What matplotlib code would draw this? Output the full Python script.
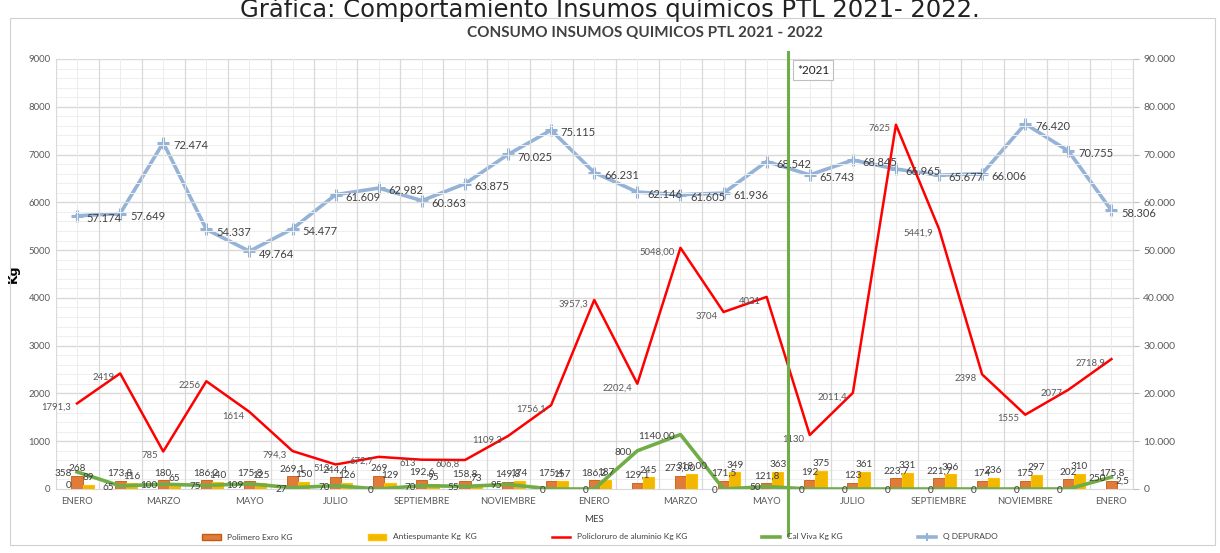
import matplotlib
matplotlib.use("Agg")
import matplotlib.pyplot as plt
import numpy as np
from matplotlib.lines import Line2D
from matplotlib.patches import Patch, Rectangle
from matplotlib.ticker import FuncFormatter, MultipleLocator

plt.rcParams['font.family'] = ['Lato', 'DejaVu Sans']

# ---------------- data ----------------
months = ["ENERO", "FEBRERO", "MARZO", "ABRIL", "MAYO", "JUNIO", "JULIO", "AGOSTO",
          "SEPTIEMBRE", "OCTUBRE", "NOVIEMBRE", "DICIEMBRE",
          "ENERO", "FEBRERO", "MARZO", "ABRIL", "MAYO", "JUNIO", "JULIO", "AGOSTO",
          "SEPTIEMBRE", "OCTUBRE", "NOVIEMBRE", "DICIEMBRE", "ENERO"]

polimero = ["268", "173,8", "180", "186,2", "175,8", "269,1", "244,4", "269", "192,6",
            "158,8", "149,8", "175,4", "186,2", "129,1", "273,00", "171,5", "121,8",
            "192", "123", "223,7", "221,7", "174", "175", "202", "175,8"]
antiespumante = ["89", "116", "65", "140", "125", "150", "126", "129", "95", "73", "174",
                 "157", "187", "245", "318,00", "349", "363", "375", "361", "331", "306",
                 "236", "297", "310", "2,5"]
policloruro = ["1791,3", "2419", "785", "2256", "1614", "794,3", "513", "672,7", "613",
               "606,8", "1109,3", "1756,1", "3957,3", "2202,4", "5048,00", "3704", "4021",
               "1130", "2011,4", "7625", "5441,9", "2398", "1555", "2077", "2718,9"]
cal_viva = ["358", "65", "100", "75", "109", "27", "70", "0", "70", "55", "95", "0", "0",
            "800", "1140,00", "0", "50", "0", "0", "0", "0", "0", "0", "0", "250"]
q_depurado = [57174, 57649, 72474, 54337, 49764, 54477, 61609, 62982, 60363, 63875,
              70025, 75115, 66231, 62146, 61605, 61936, 68542, 65743, 68845, 66965,
              65677, 66006, 76420, 70755, 58306]

series_names = ["Polimero Exro KG", "Antiespumante Kg  KG", "Policloruro de aluminio Kg KG",
                "Cal Viva Kg KG", "Q DEPURADO"]
marker_label = "*2021"


def num(s):
    return float(s.replace(",", "."))


def thousands(v):
    return f"{int(round(v)):,}".replace(",", ".")


pol_v = [num(s) for s in polimero]
ant_v = [num(s) for s in antiespumante]
pac_v = [num(s) for s in policloruro]
cal_v = [num(s) for s in cal_viva]

x = np.arange(len(months))

# ---------------- figure ----------------
W, H = 1220, 553
fig = plt.figure(figsize=(W / 100, H / 100), dpi=100)
fig.patches.append(Rectangle((10 / W, 0.015), 1 - 15 / W, 1 - 18 / H - 0.015,
                             transform=fig.transFigure, fill=False,
                             edgecolor="#d0d0d0", lw=0.8))

ax = fig.add_axes([55.5 / W, 1 - 489 / H, (1133 - 55.5) / W, (489 - 59) / H])
ax2 = ax.twinx()
ax.set_zorder(ax2.get_zorder() + 1)
ax.patch.set_visible(False)

ax.set_xlim(-0.5, len(months) - 0.5)
ax.set_ylim(0, 9000)
ax2.set_ylim(0, 90000)

# grid
ax.yaxis.set_major_locator(MultipleLocator(1000))
ax.yaxis.set_minor_locator(MultipleLocator(200))
ax.set_xticks(x[::2])
ax.set_xticklabels(months[::2])
ax.set_xticks(np.arange(-0.5, len(months), 1), minor=True)
for yy in np.arange(200, 9001, 200):
    major = (yy % 1000 == 0)
    ax.axhline(yy, color="#d9d9d9" if major else "#eeeeee", lw=1.0 if major else 0.7, zorder=0)
for xx in np.arange(-0.5, len(months), 1):
    ax.axvline(xx, color="#d9d9d9", lw=0.9, zorder=0)
for xx in x:
    ax.axvline(xx, color="#ececec", lw=0.7, zorder=0)

# bars
bw = 0.26
ax.bar(x, pol_v, width=bw, color="#E07B39", edgecolor="#C55A11", lw=0.6, zorder=3,
       label=series_names[0])
ax.bar(x + bw, ant_v, width=bw, color="#F2B800", edgecolor="#FFC000", lw=0.8, zorder=3,
       label=series_names[1])

# lines
ax.plot(x, pac_v, color="#FF0000", lw=1.8, zorder=4)
ax.plot(x, cal_v, color="#70AD47", lw=2.6, zorder=5)
ax2.plot(x, q_depurado, color="#95B3D7", lw=2.6, marker="+", ms=9, mew=2.2, zorder=4)

lab_kw = dict(textcoords="offset points", fontsize=7.2, color="#404040", zorder=6)
for i in range(len(x)):
    ax.annotate(polimero[i], (x[i], pol_v[i]), xytext=(0, 2), ha="center", va="bottom", **lab_kw)
    ax.annotate(antiespumante[i], (x[i] + bw, ant_v[i]), xytext=(0, 2), ha="center",
                va="bottom", **lab_kw)
    ax.annotate(policloruro[i], (x[i], pac_v[i]), xytext=(-4, -3), ha="right", va="center",
                textcoords="offset points", fontsize=6.8, color="#595959", zorder=6)
    ax.annotate(cal_viva[i], (x[i], cal_v[i]), xytext=(-4, -1), ha="right", va="center", **lab_kw)
    ax.annotate(thousands(q_depurado[i]), (x[i], q_depurado[i] * 0.1), xytext=(7, -2),
                ha="left", va="center", textcoords="offset points", fontsize=8,
                color="#404040", zorder=6)
# stray zero label near first month
ax.annotate("0", (x[0], cal_v[0]), xytext=(-4, -10), ha="right", va="center", **lab_kw)

# separator line and box
ax.axvline(16.5, ymin=-0.107, ymax=1.016, color="#70AD47", lw=2.2, clip_on=False, zorder=7)
fig.text(797 / W, 1 - 70 / H, marker_label, fontsize=8.5, color="#222222", va="center",
         ha="left", bbox=dict(boxstyle="square,pad=0.35", fc="white", ec="#bfbfbf", lw=0.8))

# axes styling
for a in (ax, ax2):
    for s in a.spines.values():
        s.set_visible(False)
ax.tick_params(axis="both", which="both", length=0, labelsize=6.8, labelcolor="#595959")
ax.tick_params(axis="x", pad=6)
ax2.tick_params(axis="y", length=4, color="#bfbfbf", labelsize=7.5, labelcolor="#595959")
ax2.yaxis.set_major_locator(MultipleLocator(10000))
ax2.yaxis.set_major_formatter(FuncFormatter(lambda v, p: thousands(v)))
ax2.spines["left"].set_visible(False)
ax2.spines["right"].set_visible(True)
ax2.spines["right"].set_color("#d9d9d9")
ax.spines["bottom"].set_visible(True)
ax.spines["bottom"].set_color("#d9d9d9")

ax.set_ylabel("Kg", fontsize=9, fontweight="bold", labelpad=6, family=["DejaVu Sans"])
ax.set_xlabel("MES", fontsize=7, color="#404040", labelpad=6)

fig.text(0.5, 1 - 17 / H, "Gráfica: Comportamiento Insumos químicos PTL 2021- 2022.",
         ha="center", va="baseline", fontsize=17.5, family=["DejaVu Sans"], color="#222222")
fig.text(645 / W, 1 - 33 / H, "CONSUMO INSUMOS QUIMICOS PTL 2021 - 2022", ha="center",
         va="center", fontsize=11, fontweight="bold", color="#404040")

handles = [Patch(facecolor="#E07B39", edgecolor="#C55A11"),
           Patch(facecolor="#F2B800", edgecolor="#FFC000"),
           Line2D([], [], color="#FF0000", lw=1.8),
           Line2D([], [], color="#70AD47", lw=2.6),
           Line2D([], [], color="#95B3D7", lw=2.6, marker="+", ms=6, mew=1.5)]
fig.legend(handles, series_names, loc="center", bbox_to_anchor=(600 / W, 1 - 537 / H),
           ncol=5, frameon=False, fontsize=6, columnspacing=9, handlelength=2.2,
           labelcolor="#404040")

fig.savefig("out.png", dpi=100)
